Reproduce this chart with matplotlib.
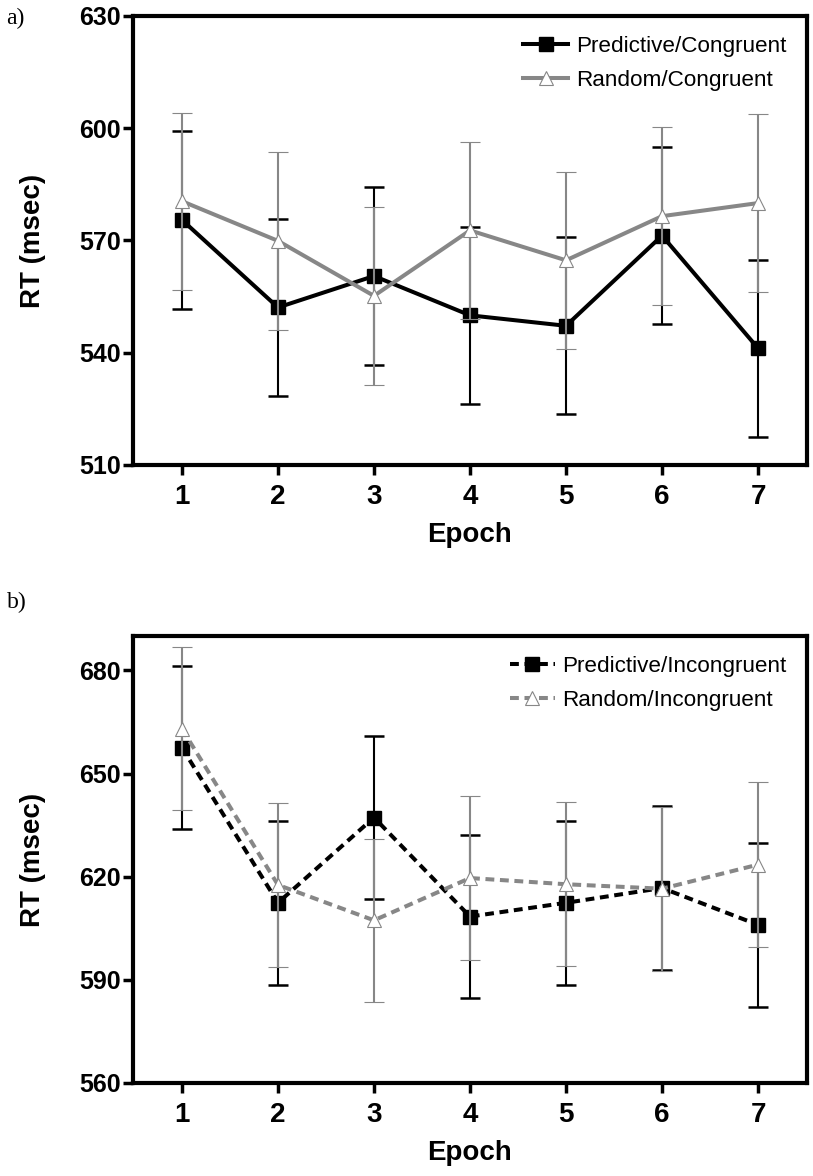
import matplotlib.pyplot as plt
from matplotlib.lines import Line2D

epochs = [1, 2, 3, 4, 5, 6, 7]

# panel a: congruent trials
pred_con = [575.5, 552.1, 560.5, 550.0, 547.2, 571.3, 541.2]
pred_con_err = [23.8, 23.7, 23.8, 23.7, 23.7, 23.7, 23.7]
rand_con = [580.5, 569.9, 555.2, 572.7, 564.7, 576.5, 580.0]
rand_con_err = [23.7, 23.7, 23.7, 23.7, 23.7, 23.7, 23.7]

# panel b: incongruent trials
pred_inc = [657.5, 612.4, 637.2, 608.4, 612.4, 616.7, 606.0]
pred_inc_err = [23.7, 23.9, 23.8, 23.8, 23.9, 23.8, 23.8]
rand_inc = [663.0, 617.6, 607.3, 619.6, 617.8, 616.5, 623.5]
rand_inc_err = [23.7, 23.9, 23.8, 23.8, 23.9, 23.8, 23.9]

GRAY = '#878787'
bold = {'family': ['Liberation Sans', 'DejaVu Sans'], 'weight': 'bold'}

fig = plt.figure(figsize=(8.13, 11.76), dpi=100)
ax_a = fig.add_axes([0.1636, 0.6046, 0.829, 0.3818])
ax_b = fig.add_axes([0.1636, 0.0791, 0.829, 0.3801])


def panel(ax, p, perr, r, rerr, ls, labels, ylim, yticks):
    ax.errorbar(epochs, p, yerr=perr, color='black', lw=2.9, ls=ls,
                marker='s', ms=10, mfc='black', mec='black',
                ecolor='black', elinewidth=1.5, capsize=7, capthick=1.8,
                zorder=3)
    ax.errorbar(epochs, r, yerr=rerr, color=GRAY, lw=2.9, ls=ls,
                marker='^', ms=10, mfc='white', mec=GRAY, mew=0.8,
                ecolor=GRAY, elinewidth=1.5, capsize=7, capthick=1.8,
                zorder=4)
    ax.set_xlim(0.49, 7.51)
    ax.set_ylim(*ylim)
    ax.set_yticks(yticks)
    ax.set_xticks(epochs)
    for s in ax.spines.values():
        s.set_linewidth(3)
    ax.tick_params(axis='y', length=7, width=2.5, pad=1.5, labelsize=18)
    ax.tick_params(axis='x', length=7, width=2.5, pad=7, labelsize=20)
    for t in ax.get_yticklabels() + ax.get_xticklabels():
        t.set_fontfamily(bold['family'])
        t.set_fontweight('bold')
    ax.set_ylabel('RT (msec)', fontsize=20, labelpad=24, **bold)
    ax.set_xlabel('Epoch', fontsize=20, labelpad=8, **bold)
    handles = [
        Line2D([], [], color='black', lw=2.9, ls=ls, marker='s', ms=10,
               mfc='black', mec='black'),
        Line2D([], [], color=GRAY, lw=2.9, ls=ls, marker='^', ms=10,
               mfc='white', mec=GRAY, mew=0.8),
    ]
    ax.legend(handles, labels, loc='upper right', frameon=False,
              handlelength=2.0, handletextpad=0.35, labelspacing=0.55,
              borderaxespad=0.5, prop={'family': 'Liberation Sans', 'size': 16.2})


panel(ax_a, pred_con, pred_con_err, rand_con, rand_con_err, '-',
      ['Predictive/Congruent', 'Random/Congruent'], (510, 630), [510, 540, 570, 600, 630])
panel(ax_b, pred_inc, pred_inc_err, rand_inc, rand_inc_err, (0, (2.2, 1.4)),
      ['Predictive/Incongruent', 'Random/Incongruent'], (560, 690), [560, 590, 620, 650, 680])

fig.text(0.008, 0.9845, 'a)', fontsize=17, family='Liberation Serif', va='center')
fig.text(0.008, 0.488, 'b)', fontsize=17, family='Liberation Serif', va='center')

fig.savefig('out.png', dpi=100)
